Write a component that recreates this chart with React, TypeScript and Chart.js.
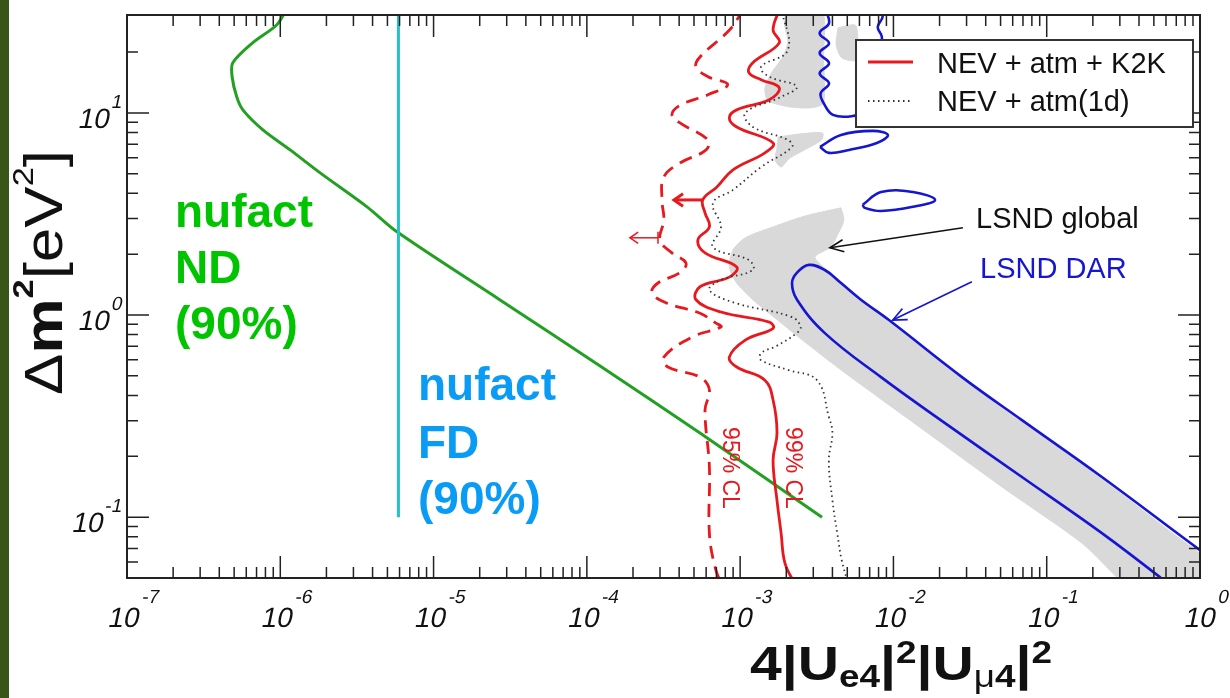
import React, { useEffect, useRef } from 'react';
import { Chart, registerables } from 'chart.js';

Chart.register(...registerables);

type Pt = [number, number];

// Axis ranges: x = 4|Ue4|^2|Uμ4|^2, y = Δm² in eV²
const X_MIN = 1e-7;
const X_MAX = 1;
const Y_MIN = 0.05;
const Y_MAX = 30.5;
const X_TICK_EXPONENTS = [-7, -6, -5, -4, -3, -2, -1, 0];
const Y_TICK_EXPONENTS = [-1, 0, 1];

// nufact near detector, 90% CL
const nufactND: Pt[] = [
  [1.11e-6, 33], [9.5e-7, 27.3], [6.6e-7, 22.2], [4.9e-7, 17.7], [4.85e-7, 15.1],
  [5.2e-7, 12.0], [5.7e-7, 10.35], [7.7e-7, 8.24], [1.16e-6, 6.56], [1.82e-6, 5.05],
  [3.68e-6, 3.43], [5.77e-6, 2.58], [2.7e-5, 1.19], [1.22e-4, 0.56], [5.5e-4, 0.26],
  [3.42e-3, 0.1],
];

// nufact far detector, 90% CL
const nufactFD: Pt[] = [[5.9e-6, 33], [5.9e-6, 0.1]];

// NEV + atm + K2K, 99% CL
const cl99K2K: Pt[] = [
  [1.82e-3, 33], [1.64e-3, 25.8], [1.8e-3, 22.2], [1.21e-3, 17.7], [1.14e-3, 15.8],
  [1.37e-3, 14.6], [1.8e-3, 13.3], [1.55e-3, 11.6], [9.5e-4, 10.35], [8.5e-4, 9.44],
  [9.5e-4, 8.52], [1.64e-3, 7.1], [1.45e-3, 6.34], [8.98e-4, 5.22], [7.06e-4, 4.3],
  [5.7e-4, 3.71], [5.9e-4, 3.2], [6.3e-4, 2.73], [5.3e-4, 2.35], [5.9e-4, 2.03],
  [9.5e-4, 1.73], [8.5e-4, 1.54], [5.47e-4, 1.38], [5.15e-4, 1.19], [7.5e-4, 1.035],
  [1.55e-3, 0.923], [1.64e-3, 0.86], [1.08e-3, 0.751], [8.5e-4, 0.619], [9.5e-4, 0.553],
  [1.45e-3, 0.476], [1.64e-3, 0.38], [1.74e-3, 0.261], [1.64e-3, 0.191], [1.74e-3, 0.121],
  [1.85e-3, 0.0834], [1.96e-3, 0.0592], [2.3e-3, 0.046],
];

// NEV + atm + K2K, 95% CL
const cl95K2K: Pt[] = [
  [1.03e-3, 33], [9.7e-4, 29.5], [8.3e-4, 25.2], [5.47e-4, 18.9], [5.15e-4, 16.9],
  [6.17e-4, 15.1], [8.3e-4, 13.8], [6.17e-4, 12.3], [4.05e-4, 10.9], [3.59e-4, 9.78],
  [4.05e-4, 8.92], [6.17e-4, 7.35], [6.0e-4, 6.56], [4.05e-4, 5.65], [3.18e-4, 4.82],
  [3.09e-4, 3.71], [3.18e-4, 2.95], [3.0e-4, 2.35], [3.59e-4, 2.03], [4.43e-4, 1.81],
  [4.05e-4, 1.62], [2.91e-4, 1.44], [2.66e-4, 1.29], [3.28e-4, 1.15], [5.47e-4, 1.02],
  [6.95e-4, 0.912], [7.5e-4, 0.873], [4.85e-4, 0.778], [3.18e-4, 0.619], [3.38e-4, 0.553],
  [5.47e-4, 0.493], [6.3e-4, 0.426], [5.9e-4, 0.339], [6.3e-4, 0.177], [6.3e-4, 0.0834],
  [6.86e-4, 0.0565], [7.6e-4, 0.046],
];

// NEV + atm(1d)
const atm1d: Pt[] = [
  [1.85e-3, 33], [2.05e-3, 20.5], [1.37e-3, 16.9], [1.55e-3, 15.1], [2.34e-3, 13.5],
  [1.85e-3, 12.0], [1.08e-3, 10.0], [1.21e-3, 8.52], [2.05e-3, 7.35], [2.18e-3, 6.79],
  [1.37e-3, 5.4], [8.98e-4, 4.16], [6.65e-4, 3.58], [7.5e-4, 2.73], [6.65e-4, 2.17],
  [1.14e-3, 1.87], [1.21e-3, 1.67], [7.5e-4, 1.49], [6.3e-4, 1.33], [9.2e-4, 1.15],
  [2.18e-3, 0.977], [2.48e-3, 0.873], [2.34e-3, 0.814], [1.71e-3, 0.7], [1.37e-3, 0.648],
  [1.37e-3, 0.598], [2.05e-3, 0.535], [3.17e-3, 0.476], [3.79e-3, 0.313], [4.0e-3, 0.261],
  [3.79e-3, 0.191], [4.0e-3, 0.121], [4.3e-3, 0.0834], [4.6e-3, 0.0612], [5.1e-3, 0.046],
];

// LSND DAR allowed band
const lsndDarBand: Pt[] = [
  [0.685, 0.0435], [0.547, 0.0505], [0.229, 0.0834], [0.0689, 0.158], [0.0217, 0.292],
  [8.3e-3, 0.493], [3.57e-3, 0.814], [2.35e-3, 1.19], [2.18e-3, 1.44], [2.35e-3, 1.62],
  [2.81e-3, 1.77], [3.57e-3, 1.67], [4.55e-3, 1.44], [6.14e-3, 1.19], [9.35e-3, 0.944],
  [2.8e-2, 0.493], [0.0689, 0.302], [0.229, 0.158], [1.0, 0.0687], [1.25, 0.0612],
];

// LSND DAR high-Δm² contour
const lsndDarTop: Pt[] = [
  [3.57e-3, 33], [3.8e-3, 27.8], [3.3e-3, 24.8], [3.8e-3, 22.1], [3.3e-3, 19.8],
  [3.8e-3, 17.6], [3.3e-3, 15.7], [3.8e-3, 14.0], [3.35e-3, 12.5], [3.5e-3, 11.2],
  [4.03e-3, 9.78], [5.44e-3, 9.66], [7.0e-3, 10.5], [8.3e-3, 16], [8.4e-3, 23.8],
  [7.9e-3, 26.6], [8.5e-3, 29.9], [8.1e-3, 33],
];

// LSND DAR islands
const lsndDarIslandA: Pt[] = [
  [3.32e-3, 6.79], [4.55e-3, 7.78], [7.35e-3, 8.15], [9.2e-3, 7.78], [7.8e-3, 7.1],
  [5.13e-3, 6.56], [3.79e-3, 6.34], [3.32e-3, 6.79],
];
const lsndDarIslandB: Pt[] = [
  [6.3e-3, 3.51], [8.3e-3, 4.06], [1.34e-2, 4.06], [1.87e-2, 3.71], [1.34e-2, 3.43],
  [8.3e-3, 3.27], [6.5e-3, 3.39], [6.3e-3, 3.51],
];

// LSND global allowed regions
const lsndGlobalMain: Pt[] = [
  [4.55e-3, 3.39], [4.75e-3, 2.95], [4.35e-3, 2.52], [3.9e-3, 2.17], [3.08e-3, 1.94],
  [3.57e-3, 1.7], [4.55e-3, 1.42], [6.14e-3, 1.17], [9.35e-3, 0.925], [2.8e-2, 0.483],
  [0.0689, 0.295], [0.229, 0.154], [0.6, 0.088], [1.25, 0.056], [1.25, 0.039],
  [0.376, 0.0426], [0.291, 0.0499], [0.17, 0.0743], [0.0511, 0.141], [0.0151, 0.276],
  [4.55e-3, 0.535], [2.45e-3, 0.769], [1.69e-3, 0.966], [1.21e-3, 1.19], [9.5e-4, 1.44],
  [8.5e-4, 1.73], [8.98e-4, 2.1], [1.08e-3, 2.41], [1.64e-3, 2.73], [2.65e-3, 3.09],
  [4.55e-3, 3.39],
];
const lsndGlobalUpper: Pt[] = [
  [2.0e-3, 33], [3.4e-3, 33], [3.5e-3, 18.3], [3.5e-3, 11.2], [2.94e-3, 10.6],
  [2.11e-3, 10.7], [1.52e-3, 11.5], [1.45e-3, 13.3], [1.62e-3, 16.0], [1.88e-3, 18.7],
  [2.05e-3, 22.4], [1.95e-3, 27.3], [2.0e-3, 33],
];
const lsndGlobalMid: Pt[] = [
  [1.77e-3, 7.6], [2.45e-3, 7.87], [3.45e-3, 7.96], [3.4e-3, 7.35], [2.7e-3, 6.63],
  [2.11e-3, 5.98], [1.85e-3, 5.4], [1.69e-3, 5.85], [1.74e-3, 6.71], [1.77e-3, 7.6],
];
const lsndGlobalPatch: Pt[] = [
  [4.35e-3, 26.4], [5.69e-3, 27], [5.69e-3, 18.3], [4.61e-3, 18.7], [4.23e-3, 21.7],
  [4.35e-3, 26.4],
];

// Annotation anchors (data coordinates)
const globalArrow: Pt[] = [[2.84e-2, 2.7], [3.85e-3, 2.15]];
const darArrow: Pt[] = [[3.25e-2, 1.46], [9.9e-3, 0.944]];
const cl99Arrow: Pt[] = [[5.7e-4, 3.71], [3.7e-4, 3.71]];
const cl95Arrow: Pt[] = [[2.91e-4, 2.41], [1.91e-4, 2.41]];

const RED = '#e8191e';
const BLUE = '#1515d2';
const GREEN = '#22a022';
const CYAN = '#26c2c8';
const GRAY = '#d9d9d9';
const INK = '#222';
const FONT = "'Liberation Sans', Arial, Helvetica, sans-serif";
const SLANT = -0.21;

const toXY = (pts: Pt[]) => pts.map(([x, y]) => ({ x, y }));

type Run = { t: string; font: string; dy?: number; dx?: number };

function runsWidth(ctx: CanvasRenderingContext2D, runs: Run[]) {
  let w = 0;
  for (const r of runs) {
    ctx.font = r.font;
    w += ctx.measureText(r.t).width + (r.dx || 0);
  }
  return w;
}

function drawRuns(ctx: CanvasRenderingContext2D, runs: Run[], x: number, y: number) {
  let cx = x;
  for (const r of runs) {
    ctx.font = r.font;
    cx += r.dx || 0;
    ctx.fillText(r.t, cx, y + (r.dy || 0));
    cx += ctx.measureText(r.t).width;
  }
}

// Slanted text runs, sheared about the baseline
function drawSlanted(ctx: CanvasRenderingContext2D, runs: Run[], x: number, y: number) {
  ctx.save();
  ctx.translate(x, y);
  ctx.transform(1, 0, SLANT, 1, 0, 0);
  drawRuns(ctx, runs, 0, 0);
  ctx.restore();
}

function arrow(
  ctx: CanvasRenderingContext2D,
  x0: number, y0: number, x1: number, y1: number,
  head: number, spread: number,
) {
  ctx.beginPath();
  ctx.moveTo(x0, y0);
  ctx.lineTo(x1, y1);
  ctx.stroke();
  const a = Math.atan2(y1 - y0, x1 - x0);
  ctx.beginPath();
  ctx.moveTo(x1 - head * Math.cos(a - spread), y1 - head * Math.sin(a - spread));
  ctx.lineTo(x1, y1);
  ctx.lineTo(x1 - head * Math.cos(a + spread), y1 - head * Math.sin(a + spread));
  ctx.stroke();
}

const overlayPlugin = {
  id: 'overlay',
  afterDraw(chart: any) {
    const ctx: CanvasRenderingContext2D = chart.ctx;
    const { left, right, top, bottom } = chart.chartArea;
    const xs = chart.scales.x;
    const ys = chart.scales.y;
    const P = (p: Pt) => [xs.getPixelForValue(p[0]), ys.getPixelForValue(p[1])];

    ctx.save();
    ctx.textBaseline = 'alphabetic';
    ctx.textAlign = 'left';

    // Experiment labels
    ctx.fillStyle = '#00c400';
    ctx.font = `bold 46px ${FONT}`;
    ctx.fillText('nufact', 175, 227);
    ctx.fillText('ND', 175, 283);
    ctx.fillText('(90%)', 175, 339);
    ctx.fillStyle = '#0a9cf5';
    ctx.fillText('nufact', 418, 400);
    ctx.fillText('FD', 418, 458);
    ctx.fillText('(90%)', 418, 514);

    // LSND labels with pointers
    ctx.fillStyle = '#111';
    ctx.font = `29px ${FONT}`;
    ctx.fillText('LSND global', 976, 228);
    ctx.fillStyle = BLUE;
    ctx.fillText('LSND DAR', 980, 278);

    ctx.lineWidth = 1.6;
    ctx.strokeStyle = '#111';
    {
      const [a, b] = [P(globalArrow[0]), P(globalArrow[1])];
      arrow(ctx, a[0], a[1], b[0], b[1], 15, 0.42);
    }
    ctx.strokeStyle = BLUE;
    {
      const [a, b] = [P(darArrow[0]), P(darArrow[1])];
      arrow(ctx, a[0], a[1], b[0], b[1], 15, 0.42);
    }

    // Exclusion direction arrows
    ctx.strokeStyle = RED;
    ctx.lineWidth = 3;
    {
      const [a, b] = [P(cl99Arrow[0]), P(cl99Arrow[1])];
      arrow(ctx, a[0], a[1], b[0], b[1], 11, 0.6);
    }
    ctx.lineWidth = 1.5;
    {
      const [a, b] = [P(cl95Arrow[0]), P(cl95Arrow[1])];
      arrow(ctx, a[0], a[1], b[0], b[1], 10, 0.6);
      ctx.beginPath();
      ctx.moveTo(a[0], a[1] - 6);
      ctx.lineTo(a[0], a[1] + 6);
      ctx.stroke();
    }

    // Contour labels
    ctx.fillStyle = RED;
    ctx.font = `23px ${FONT}`;
    ctx.textAlign = 'center';
    ctx.textBaseline = 'middle';
    for (const [label, cx] of [['95% CL', 729], ['99% CL', 792]] as [string, number][]) {
      ctx.save();
      ctx.translate(cx, 468);
      ctx.rotate(Math.PI / 2);
      ctx.fillText(label, 0, 0);
      ctx.restore();
    }
    ctx.textAlign = 'left';
    ctx.textBaseline = 'alphabetic';

    // Frame
    ctx.strokeStyle = INK;
    ctx.lineWidth = 2;
    ctx.strokeRect(left, top, right - left, bottom - top);

    // Log ticks on all four sides, pointing inward
    ctx.lineWidth = 1.5;
    ctx.beginPath();
    for (let d = -7; d <= 0; d++) {
      for (let m = 1; m <= 9; m++) {
        const v = m * Math.pow(10, d);
        if (v < X_MIN * 0.999 || v > X_MAX * 1.001) continue;
        const px = xs.getPixelForValue(v);
        const len = m === 1 ? 22 : 11;
        ctx.moveTo(px, bottom);
        ctx.lineTo(px, bottom - len);
        ctx.moveTo(px, top);
        ctx.lineTo(px, top + len);
      }
    }
    for (let d = -2; d <= 1; d++) {
      for (let m = 1; m <= 9; m++) {
        const v = m * Math.pow(10, d);
        if (v < Y_MIN || v > Y_MAX) continue;
        const py = ys.getPixelForValue(v);
        if (py < top + 2 || py > bottom - 2) continue;
        const len = m === 1 ? 22 : 11;
        ctx.moveTo(left, py);
        ctx.lineTo(left + len, py);
        ctx.moveTo(right, py);
        ctx.lineTo(right - len, py);
      }
    }
    ctx.stroke();

    // Tick labels (slanted)
    ctx.fillStyle = '#111';
    const big = `28px ${FONT}`;
    const small = `19px ${FONT}`;
    for (const e of X_TICK_EXPONENTS) {
      const runs: Run[] = [
        { t: '10', font: big },
        { t: String(e), font: small, dy: -24, dx: -2 },
      ];
      const w = runsWidth(ctx, runs);
      const px = xs.getPixelForValue(Math.pow(10, e));
      drawSlanted(ctx, runs, px - w / 2 + 3, bottom + 49);
    }
    for (const e of Y_TICK_EXPONENTS) {
      const runs: Run[] = [
        { t: '10', font: big },
        { t: String(e), font: small, dy: -20, dx: -2 },
      ];
      const w = runsWidth(ctx, runs);
      const py = ys.getPixelForValue(Math.pow(10, e));
      drawSlanted(ctx, runs, 117 - w, py + 15);
    }

    // x-axis title: 4|Ue4|²|Uμ4|²
    {
      const B = `bold 48px ${FONT}`;
      const S = `bold 31px ${FONT}`;
      const M = `31px ${FONT}`;
      const runs: Run[] = [
        { t: '4|U', font: B }, { t: 'e4', font: S, dy: 7 }, { t: '|', font: B },
        { t: '2', font: S, dy: -17 }, { t: '|U', font: B }, { t: 'μ', font: M, dy: 7 },
        { t: '4', font: S, dy: 7 }, { t: '|', font: B }, { t: '2', font: S, dy: -17 },
      ];
      const w = runsWidth(ctx, runs);
      ctx.save();
      ctx.translate(750, 680);
      ctx.scale(302 / w, 1);
      drawRuns(ctx, runs, 0, 0);
      ctx.restore();
    }

    // y-axis title: Δm²[eV²]
    {
      const R = `54px ${FONT}`;
      const B = `bold 54px ${FONT}`;
      const runs: Run[] = [
        { t: 'Δ', font: R }, { t: 'm', font: B }, { t: '2', font: `bold 30px ${FONT}`, dy: -29 },
        { t: '[eV', font: R }, { t: '2', font: `30px ${FONT}`, dy: -29 }, { t: ']', font: R },
      ];
      const w = runsWidth(ctx, runs);
      ctx.save();
      ctx.translate(62, 395);
      ctx.rotate(-Math.PI / 2);
      ctx.scale(245 / w, 1);
      drawRuns(ctx, runs, 0, 0);
      ctx.restore();
    }

    // Legend
    ctx.fillStyle = '#fff';
    ctx.fillRect(856, 40, 337, 87);
    ctx.strokeStyle = '#333';
    ctx.lineWidth = 2;
    ctx.strokeRect(856, 40, 337, 87);
    ctx.strokeStyle = RED;
    ctx.lineWidth = 3;
    ctx.beginPath();
    ctx.moveTo(868, 62);
    ctx.lineTo(913, 62);
    ctx.stroke();
    ctx.strokeStyle = '#333';
    ctx.lineWidth = 1.8;
    ctx.setLineDash([1.5, 3.5]);
    ctx.beginPath();
    ctx.moveTo(868, 101);
    ctx.lineTo(911, 101);
    ctx.stroke();
    ctx.setLineDash([]);
    ctx.fillStyle = '#111';
    ctx.font = `29px ${FONT}`;
    const labels = chart.data.datasets
      .filter((d: any) => d.legendRow !== undefined)
      .sort((a: any, b: any) => a.legendRow - b.legendRow);
    labels.forEach((d: any, i: number) => {
      ctx.fillText(d.label, 937, i === 0 ? 73 : 111);
    });

    ctx.restore();
  },
};

function line(label: string, pts: Pt[], color: string, width: number, extra: any = {}) {
  return {
    label,
    data: toXY(pts),
    showLine: true,
    borderColor: color,
    borderWidth: width,
    pointRadius: 0,
    pointHoverRadius: 0,
    pointHitRadius: 0,
    tension: 0.4,
    fill: false,
    clip: 0,
    order: 1,
    ...extra,
  };
}

function region(label: string, pts: Pt[]) {
  return {
    label,
    data: toXY(pts),
    showLine: true,
    borderColor: GRAY,
    borderWidth: 1,
    backgroundColor: GRAY,
    pointRadius: 0,
    pointHoverRadius: 0,
    pointHitRadius: 0,
    tension: 0.25,
    fill: 'shape',
    clip: 0,
    order: 10,
  };
}

export default function App() {
  const canvasRef = useRef<HTMLCanvasElement | null>(null);

  useEffect(() => {
    const canvas = canvasRef.current;
    if (!canvas) return;
    const chart = new Chart(canvas, {
      type: 'scatter',
      data: {
        datasets: [
          region('LSND global', lsndGlobalMain),
          region('LSND global (upper)', lsndGlobalUpper),
          region('LSND global (mid)', lsndGlobalMid),
          region('LSND global (patch)', lsndGlobalPatch),
          line('LSND DAR', lsndDarBand, BLUE, 2.6),
          line('LSND DAR (top)', lsndDarTop, BLUE, 2.6),
          line('LSND DAR (island A)', lsndDarIslandA, BLUE, 2.6),
          line('LSND DAR (island B)', lsndDarIslandB, BLUE, 2.6),
          line('NEV + atm(1d)', atm1d, '#333', 1.8, {
            borderDash: [1.5, 3.5], legendRow: 1,
          }),
          line('95% CL', cl95K2K, RED, 2.8, { borderDash: [13, 8] }),
          line('NEV + atm + K2K', cl99K2K, RED, 2.8, { legendRow: 0 }),
          line('nufact FD', nufactFD, CYAN, 3, { tension: 0 }),
          line('nufact ND', nufactND, GREEN, 3, { tension: 0.3 }),
        ] as any,
      },
      options: {
        animation: false,
        responsive: false,
        maintainAspectRatio: false,
        devicePixelRatio: 1,
        events: [],
        layout: { padding: { top: 15, right: 30, left: 0, bottom: 0 } },
        elements: { line: { capBezierPoints: false } },
        plugins: {
          legend: { display: false },
          tooltip: { enabled: false },
        },
        scales: {
          x: {
            type: 'logarithmic',
            min: X_MIN,
            max: X_MAX,
            ticks: { display: false },
            grid: { display: false },
            border: { display: false },
            afterFit: (s: any) => { s.height = 120; },
          },
          y: {
            type: 'logarithmic',
            min: Y_MIN,
            max: Y_MAX,
            ticks: { display: false },
            grid: { display: false },
            border: { display: false },
            afterFit: (s: any) => { s.width = 127; },
          },
        },
      } as any,
      plugins: [overlayPlugin],
    });
    return () => chart.destroy();
  }, []);

  return (
    <div
      style={{
        position: 'fixed', left: 0, top: 0, width: 1230, height: 698,
        background: '#fff', overflow: 'hidden',
      }}
    >
      <div
        style={{
          position: 'absolute', left: 0, top: 0, width: 9, height: 698,
          background: '#3a5519',
        }}
      />
      <canvas
        ref={canvasRef}
        width={1230}
        height={698}
        style={{ position: 'absolute', left: 0, top: 0, display: 'block' }}
      />
    </div>
  );
}
